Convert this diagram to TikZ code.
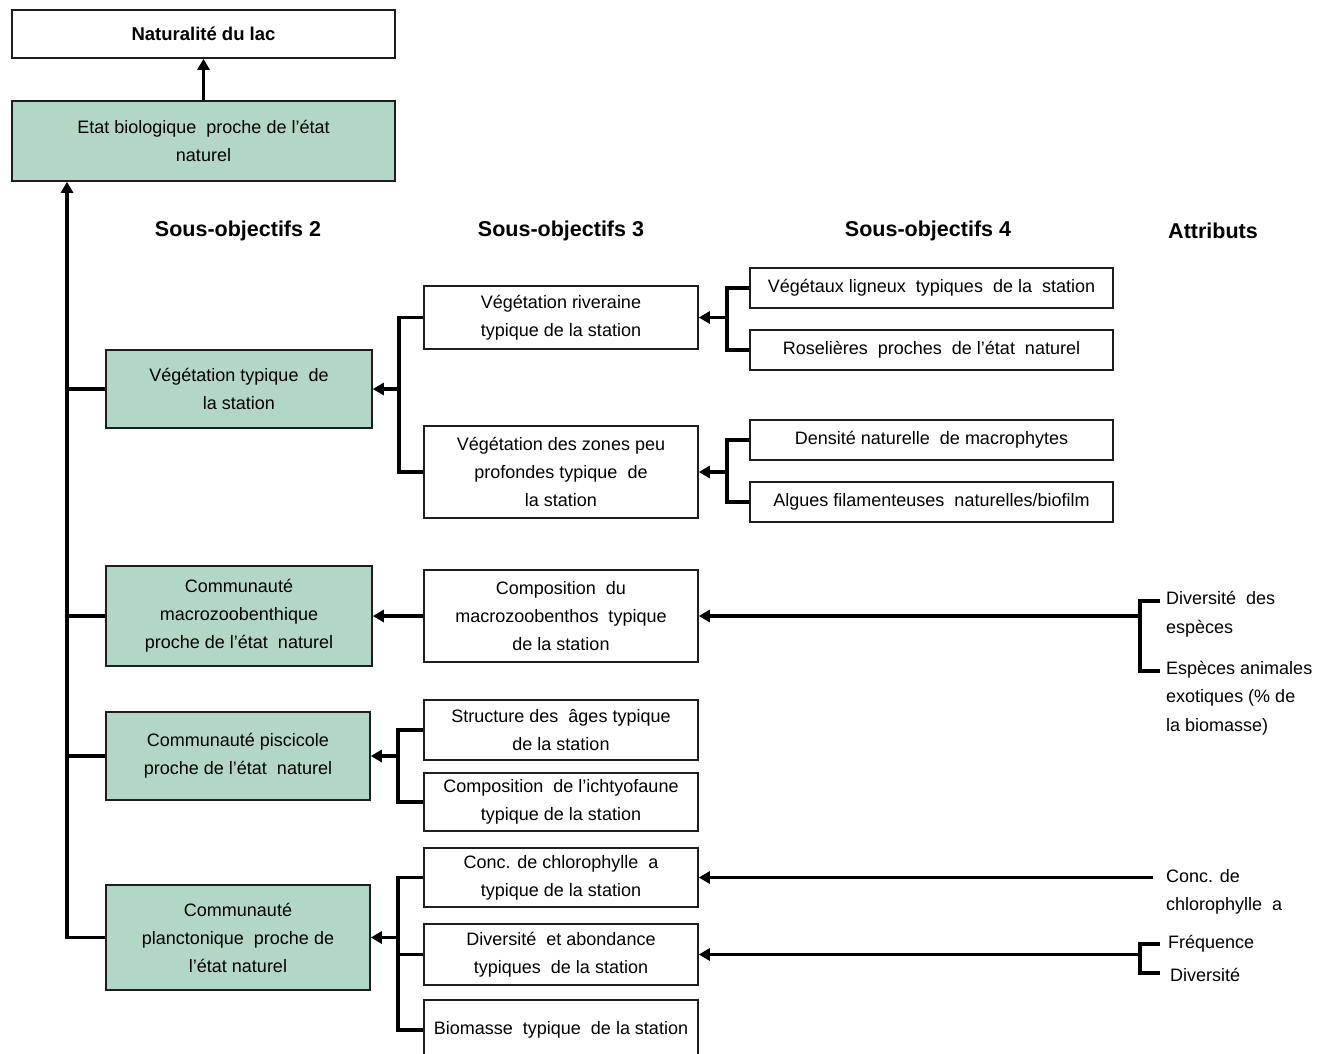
\documentclass[tikz,border=0pt]{standalone}
\usepackage{fontspec}
\setmainfont{Liberation Sans}
\usetikzlibrary{arrows.meta}
\definecolor{sage}{RGB}{179,215,198}
\definecolor{edge}{RGB}{30,30,30}
\begin{document}
\begin{tikzpicture}[x=1pt,y=-1pt,
  box/.style={draw=edge, line width=1.6pt, align=center, inner sep=0pt,
    font=\fontsize{18}{28}\selectfont},
  gbox/.style={box, fill=sage},
  head/.style={font=\fontsize{21.5}{26}\selectfont\bfseries, inner sep=0pt},
  attr/.style={anchor=west, align=left, inner sep=0pt, font=\fontsize{18}{28.5}\selectfont},
  ln/.style={line width=3.3pt},
  arr/.style={line width=3.3pt, -{Triangle[length=11pt,width=12pt]}}
]
\useasboundingbox[fill=white] (0,0) rectangle (1335,1053);

% top
\node[box, minimum width=383pt, minimum height=48pt, font=\fontsize{18.5}{22}\selectfont\bfseries] (nat) at (203.5,34) {Naturalité du lac};
\node[gbox, minimum width=383pt, minimum height=80pt] (etat) at (203.5,141) {Etat biologique \ proche de l’état\\naturel};

% headers
\node[head] (h2) at (238,231) {Sous-objectifs 2};
\node[head] (h3) at (561,231) {Sous-objectifs 3};
\node[head] (h4) at (928,231) {Sous-objectifs 4};
\node[head] (h5) at (1213,231) {Attributs};

% sous-objectifs 2
\node[gbox, minimum width=266pt, minimum height=78pt] (veg) at (239,389) {Végétation typique \ de\\la station};
\node[gbox, minimum width=266pt, minimum height=100pt] (macro) at (239,616) {Communauté\\macrozoobenthique\\proche de l’état \ naturel};
\node[gbox, minimum width=264pt, minimum height=88pt] (pisc) at (238,756) {Communauté piscicole\\proche de l’état \ naturel};
\node[gbox, minimum width=264pt, minimum height=105pt] (plan) at (238,937.5) {Communauté\\planctonique \ proche de\\l’état naturel};

% sous-objectifs 3
\node[box, minimum width=274pt, minimum height=63pt] (r3a) at (561,317.5) {Végétation riveraine\\typique de la station};
\node[box, minimum width=274pt, minimum height=92pt] (r3b) at (561,472) {Végétation des zones peu\\profondes typique \ de\\la station};
\node[box, minimum width=274pt, minimum height=92pt] (r3c) at (561,616) {Composition \ du\\macrozoobenthos \ typique\\de la station};
\node[box, minimum width=274pt, minimum height=60pt] (r3d) at (561,730) {Structure des \ âges typique\\de la station};
\node[box, minimum width=274pt, minimum height=58pt] (r3e) at (561,802) {Composition \ de l’ichtyofaune\\typique de la station};
\node[box, minimum width=274pt, minimum height=59pt] (r3f) at (561,877.5) {Conc. de chlorophylle \ a\\typique de la station};
\node[box, minimum width=274pt, minimum height=61pt] (r3g) at (561,954.5) {Diversité \ et abondance\\typiques \ de la station};
\node[box, minimum width=274pt, minimum height=60pt] (r3h) at (561,1030) {Biomasse \ typique \ de la station};

% sous-objectifs 4
\node[box, minimum width=363pt, minimum height=40pt] (s4a) at (931.5,288) {Végétaux ligneux \ typiques \ de la \ station};
\node[box, minimum width=363pt, minimum height=40pt] (s4b) at (931.5,350) {Roselières \ proches \ de l’état \ naturel};
\node[box, minimum width=363pt, minimum height=40pt] (s4c) at (931.5,440) {Densité naturelle \ de macrophytes};
\node[box, minimum width=363pt, minimum height=40pt] (s4d) at (931.5,502) {Algues filamenteuses \ naturelles/biofilm};

% attributs
\node[attr] (at1) at (1166,614) {Diversité \ des\\espèces};
\node[attr] (at2) at (1166,698) {Espèces animales\\exotiques (\% de\\la biomasse)};
\node[attr] (at3) at (1166,892) {Conc. de\\chlorophylle \ a};
\node[attr] (at4) at (1168,944) {Fréquence};
\node[attr] (at5) at (1170,975) {Diversité};

% trunk
\coordinate (trunk) at (67,0);
\draw[arr] (etat.north) -- (nat.south);
\draw[arr] (plan.west) -| (trunk |- etat.south);
\draw[ln] (veg.west) -- (veg.west -| trunk);
\draw[ln] (macro.west) -- (macro.west -| trunk);
\draw[ln] (pisc.west) -- (pisc.west -| trunk);

% level 3 -> level 2
\coordinate (j3) at (399,0);
\draw[ln] (r3a.west) -| (j3 |- r3b.west) -- (r3b.west);
\draw[arr] (j3 |- veg.east) -- (veg.east);
\draw[arr] (r3c.west) -- (macro.east);
\coordinate (j3b) at (398,0);
\draw[ln] (r3d.west) -| (j3b |- r3e.west) -- (r3e.west);
\draw[arr] (j3b |- pisc.east) -- (pisc.east);
\draw[ln] (r3f.west) -| (j3b |- r3h.west) -- (r3h.west);
\draw[ln] (r3g.west) -- (r3g.west -| j3b);
\draw[arr] (j3b |- plan.east) -- (plan.east);

% level 4 -> level 3
\coordinate (j4) at (727,0);
\draw[ln] (s4a.west) -| (j4 |- s4b.west) -- (s4b.west);
\draw[arr] (j4 |- r3a.east) -- (r3a.east);
\draw[ln] (s4c.west) -| (j4 |- s4d.west) -- (s4d.west);
\draw[arr] (j4 |- r3b.east) -- (r3b.east);

% attributes -> level 3
\coordinate (ja) at (1140,0);
\coordinate (b1t) at (1160,601);
\coordinate (b1b) at (1160,671);
\draw[ln] (b1t) -| (ja |- b1b) -- (b1b);
\draw[arr] (ja |- r3c.east) -- (r3c.east);
\coordinate (c1) at (1153,877.5);
\draw[arr] (c1) -- (r3f.east);
\coordinate (b2t) at (1160,944);
\coordinate (b2b) at (1160,973);
\draw[ln] (b2t) -| (ja |- b2b) -- (b2b);
\draw[arr] (ja |- r3g.east) -- (r3g.east);
\end{tikzpicture}
\end{document}
